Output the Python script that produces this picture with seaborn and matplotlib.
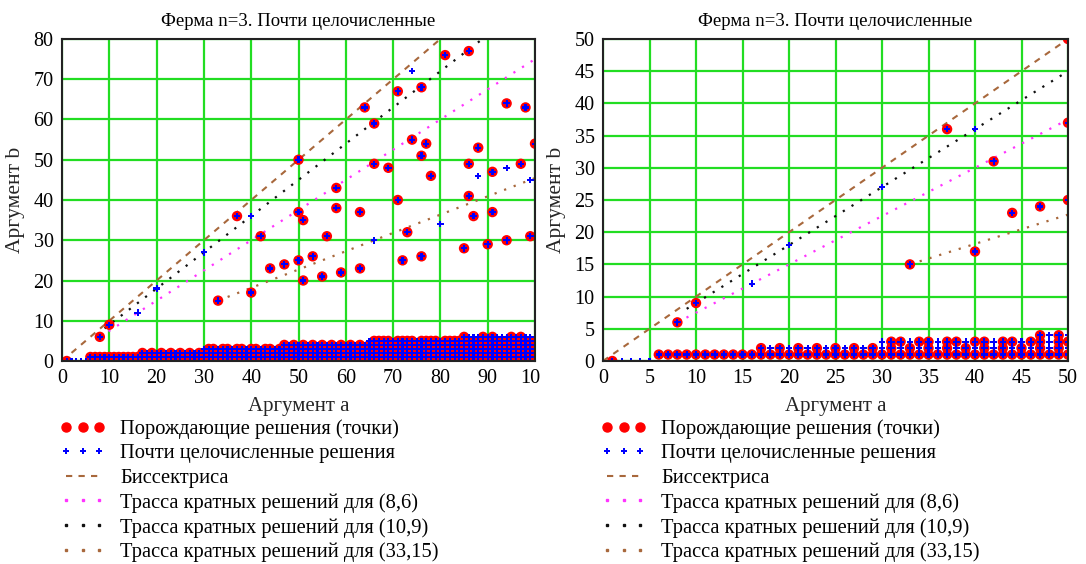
import math
import numpy as np
import pandas as pd
import matplotlib
matplotlib.use("Agg")
import matplotlib.pyplot as plt
from matplotlib.lines import Line2D
from matplotlib.transforms import Bbox, TransformedBbox
import seaborn as sns

# Generating (primitive) near-integer pairs a^3 + b^3 ~ c^3
gen_a = [1, 8, 10, 33, 37, 40, 42, 44, 47, 50, 50, 50, 51, 51, 53, 55, 56, 58,
         58, 59, 63, 63, 64, 66, 66, 69, 71, 71, 72, 73, 74, 76, 76, 76, 77, 78,
         81, 85, 86, 86, 86, 87, 88, 90, 91, 91, 94, 94, 97, 98, 99, 100]
gen_b = [0, 6, 9, 15, 36, 17, 31, 23, 24, 50, 37, 25, 35, 20, 26, 21, 31, 43,
         38, 22, 37, 23, 63, 59, 49, 48, 67, 40, 25, 32, 55, 68, 51, 26, 54, 46,
         76, 28, 77, 49, 41, 36, 53, 29, 47, 37, 64, 30, 49, 63, 31, 54]

# Near-integer pairs that are multiples of a generating pair
mult_a = [2, 3, 4, 5, 16, 20, 30, 40, 66, 74, 80, 88, 94, 99]
mult_b = [0, 0, 0, 0, 12, 18, 27, 36, 30, 72, 34, 46, 48, 45]

# Low band of solutions: for each small b, the first a where (a, b) qualifies
band_b = [1, 2, 3, 4, 5, 6]
band_first_a = [6, 17, 30, 47, 65, 85]
band_last_a = 100

# Traces of multiples k*(a0, b0)
trace_pairs = [(8, 6), (10, 9), (33, 15)]
trace_from_a = [8, 9, 33]
trace_colors = ["#ff33ff", "#111111", "#a8683c"]

bisector_color = "#a8683c"
red = "#ff0000"
blue = "#0000ff"
grid_green = "#22dd22"

title = "Ферма n=3. Почти целочисленные"
xlabel = "Аргумент a"
ylabel = "Аргумент b"
legend_labels = [
    "Порождающие решения (точки)",
    "Почти целочисленные решения",
    "Биссектриса",
    "Трасса кратных решений для (8,6)",
    "Трасса кратных решений для (10,9)",
    "Трасса кратных решений для (33,15)",
]

panels = [
    dict(xmax=100, ymax=80, xstep=10, ystep=10),
    dict(xmax=50, ymax=50, xstep=5, ystep=5),
]

# ---- assemble point tables ----
band_rows = []
for b, a0 in zip(band_b, band_first_a):
    for a in range(a0, band_last_a + 1):
        band_rows.append((a, b, math.gcd(a, b) == 1))
band = pd.DataFrame(band_rows, columns=["a", "b", "primitive"])

generating = pd.concat([
    pd.DataFrame({"a": gen_a, "b": gen_b}),
    band.loc[band.primitive, ["a", "b"]],
], ignore_index=True)
near_integer = pd.concat([
    pd.DataFrame({"a": gen_a, "b": gen_b}),
    pd.DataFrame({"a": mult_a, "b": mult_b}),
    band[["a", "b"]],
], ignore_index=True)

sns.set_style("white")
plt.rcParams["font.family"] = ["Liberation Serif", "DejaVu Serif"]
plt.rcParams["text.color"] = "black"

W, H = 1086, 564
fig = plt.figure(figsize=(W / 100, H / 100), dpi=100)
fig.patch.set_facecolor("white")

axes_px = [(62, 535), (603, 1068)]
top_px, bottom_px = 39, 361
legend_x_px = [60, 601]

for (x0, x1), lx, p in zip(axes_px, legend_x_px, panels):
    ax = fig.add_axes([x0 / W, 1 - bottom_px / H, (x1 - x0) / W,
                       (bottom_px - top_px) / H])
    ax.set_facecolor("white")
    xmax, ymax = p["xmax"], p["ymax"]

    # bisector
    bis = pd.DataFrame({"a": [0, xmax], "b": [0, xmax]})
    sns.lineplot(data=bis, x="a", y="b", ax=ax, color=bisector_color,
                 linewidth=1.5, linestyle=(0, (3, 3)), zorder=2)
    # traces of multiples
    for (pa, pb), a_start, col in zip(trace_pairs, trace_from_a, trace_colors):
        k = np.array([a_start / pa, xmax / pa])
        tr = pd.DataFrame({"a": k * pa, "b": k * pb})
        sns.lineplot(data=tr, x="a", y="b", ax=ax, color=col, linewidth=1.6,
                     linestyle=(0, (1, 3.6)), dash_capstyle="butt", zorder=2)

    sns.scatterplot(data=generating, x="a", y="b", ax=ax, color=red, s=56,
                    marker="o", edgecolor="none", linewidth=0, zorder=3)
    sns.scatterplot(data=near_integer, x="a", y="b", ax=ax, color=blue, s=22,
                    marker="P", edgecolor="none", linewidth=0, zorder=4)

    ax.set_xlim(0, xmax)
    ax.set_ylim(0, ymax)
    ax.set_xticks(np.arange(0, xmax + 1, p["xstep"]))
    ax.set_yticks(np.arange(0, ymax + 1, p["ystep"]))
    ax.grid(True, color=grid_green, linewidth=1.6)
    ax.set_axisbelow(True)
    ax.tick_params(length=0, labelsize=14.5, pad=6, colors="black")
    for s in ax.spines.values():
        s.set_color("#222222")
        s.set_linewidth(1.5)
        s.set_zorder(5)

    ax.set_title(title, fontsize=13.5, pad=9)
    ax.set_xlabel(xlabel, fontsize=15)
    ax.set_ylabel(ylabel, fontsize=15.5)
    ax.xaxis.label.set_va("center")
    ax.yaxis.label.set_va("center")
    ax.xaxis.set_label_coords(0.5, (bottom_px - 407) / (bottom_px - top_px))
    ax.yaxis.set_label_coords(-46 / (x1 - x0), 0.5)

    handles = [
        Line2D([], [], color=red, marker="o", markersize=6.5, linestyle="none"),
        Line2D([], [], color=blue, marker="P", markersize=4, linestyle="none",
               markeredgewidth=0),
        Line2D([], [], color=bisector_color, linewidth=1.5, linestyle=(0, (3, 3))),
        Line2D([], [], color=trace_colors[0], marker="s", markersize=1.5,
               linestyle="none"),
        Line2D([], [], color=trace_colors[1], marker="s", markersize=1.5,
               linestyle="none"),
        Line2D([], [], color=trace_colors[2], marker="s", markersize=1.5,
               linestyle="none"),
    ]
    ax.legend(handles, legend_labels, loc="upper left",
              bbox_to_anchor=(lx / W, 1 - 419 / H),
              bbox_transform=fig.transFigure, frameon=False, numpoints=3,
              fontsize=14.8, handlelength=2.2, handletextpad=0.72,
              labelspacing=0.25, borderpad=0, borderaxespad=0)

# the left panel's last x label runs into the neighbouring region and is cut
left_ax = fig.axes[0]
clip = TransformedBbox(Bbox([[0, 0], [540 / W, 1]]), fig.transFigure)
for lab in left_ax.get_xticklabels():
    lab.set_clip_box(clip)
    lab.set_clip_on(True)

fig.savefig("out.png", dpi=100, facecolor="white")
